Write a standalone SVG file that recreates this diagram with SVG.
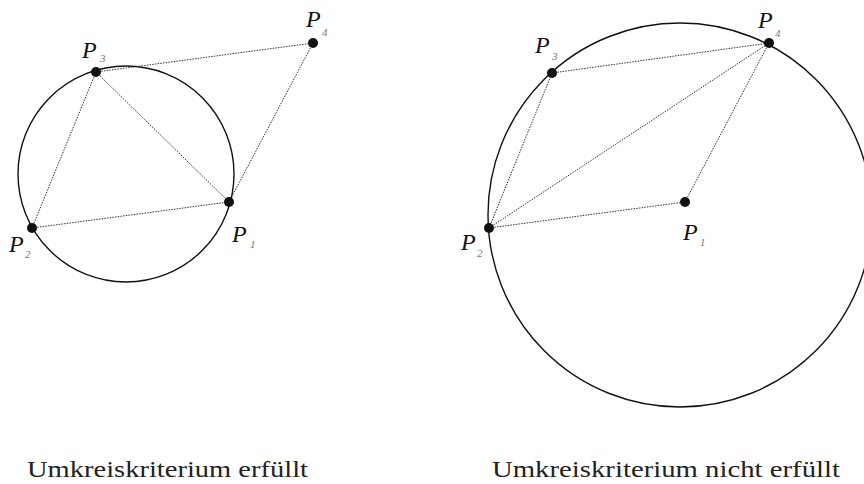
<svg xmlns="http://www.w3.org/2000/svg" width="864" height="484" viewBox="0 0 864 484">
<style>
.circ{fill:none;stroke:#111;stroke-width:1.4}
.dl{stroke:#333;stroke-width:1;stroke-dasharray:1.5 1.2;fill:none}
.dot{fill:#111}
.lbl{font-style:italic;font-size:24px;fill:#111}
.sub{font-style:italic;font-size:11px;fill:#777}
.cap{font-size:23px;fill:#222}
</style>
<rect width="864" height="484" fill="#fff"/>
<g font-family="Liberation Serif, serif">
<g id="left">
<circle id="circumcircle-left" class="circ" cx="126" cy="174" r="108"/>
<g id="connectors-left">
<line class="dl" x1="96" y1="72" x2="313" y2="43"/>
<line class="dl" x1="313" y1="43" x2="229" y2="202"/>
<line class="dl" x1="96" y1="72" x2="229" y2="202"/>
<line class="dl" x1="96" y1="72" x2="32" y2="228"/>
<line class="dl" x1="32" y1="228" x2="229" y2="202"/>
</g>
<g id="L-P1"><circle class="dot" cx="229" cy="202" r="5"/><text class="lbl" x="232" y="242">P</text><text class="sub" x="250" y="248">1</text></g>
<g id="L-P2"><circle class="dot" cx="32" cy="228" r="5"/><text class="lbl" x="9" y="252">P</text><text class="sub" x="25" y="258">2</text></g>
<g id="L-P3"><circle class="dot" cx="96" cy="72" r="5"/><text class="lbl" x="82" y="58">P</text><text class="sub" x="100" y="62">3</text></g>
<g id="L-P4"><circle class="dot" cx="313" cy="43" r="5"/><text class="lbl" x="306" y="27">P</text><text class="sub" x="322" y="36">4</text></g>
<text class="cap" x="27" y="477" textLength="281" lengthAdjust="spacingAndGlyphs">Umkreiskriterium erfüllt</text>
</g>
<g id="right">
<circle id="circumcircle-right" class="circ" cx="680" cy="215" r="192"/>
<g id="connectors-right">
<line class="dl" x1="552" y1="73" x2="769" y2="43"/>
<line class="dl" x1="489" y1="228" x2="769" y2="43"/>
<line class="dl" x1="769" y1="43" x2="685" y2="202"/>
<line class="dl" x1="489" y1="228" x2="552" y2="73"/>
<line class="dl" x1="489" y1="228" x2="685" y2="202"/>
</g>
<g id="R-P1"><circle class="dot" cx="685" cy="202" r="5"/><text class="lbl" x="683" y="240">P</text><text class="sub" x="700" y="246">1</text></g>
<g id="R-P2"><circle class="dot" cx="489" cy="228" r="5"/><text class="lbl" x="461" y="250">P</text><text class="sub" x="477" y="257">2</text></g>
<g id="R-P3"><circle class="dot" cx="552" cy="73" r="5"/><text class="lbl" x="535" y="53">P</text><text class="sub" x="552" y="60">3</text></g>
<g id="R-P4"><circle class="dot" cx="769" cy="43" r="5"/><text class="lbl" x="758" y="28">P</text><text class="sub" x="775" y="37">4</text></g>
<text class="cap" x="492" y="477" textLength="348" lengthAdjust="spacingAndGlyphs">Umkreiskriterium nicht erfüllt</text>
</g>
</g>
</svg>
